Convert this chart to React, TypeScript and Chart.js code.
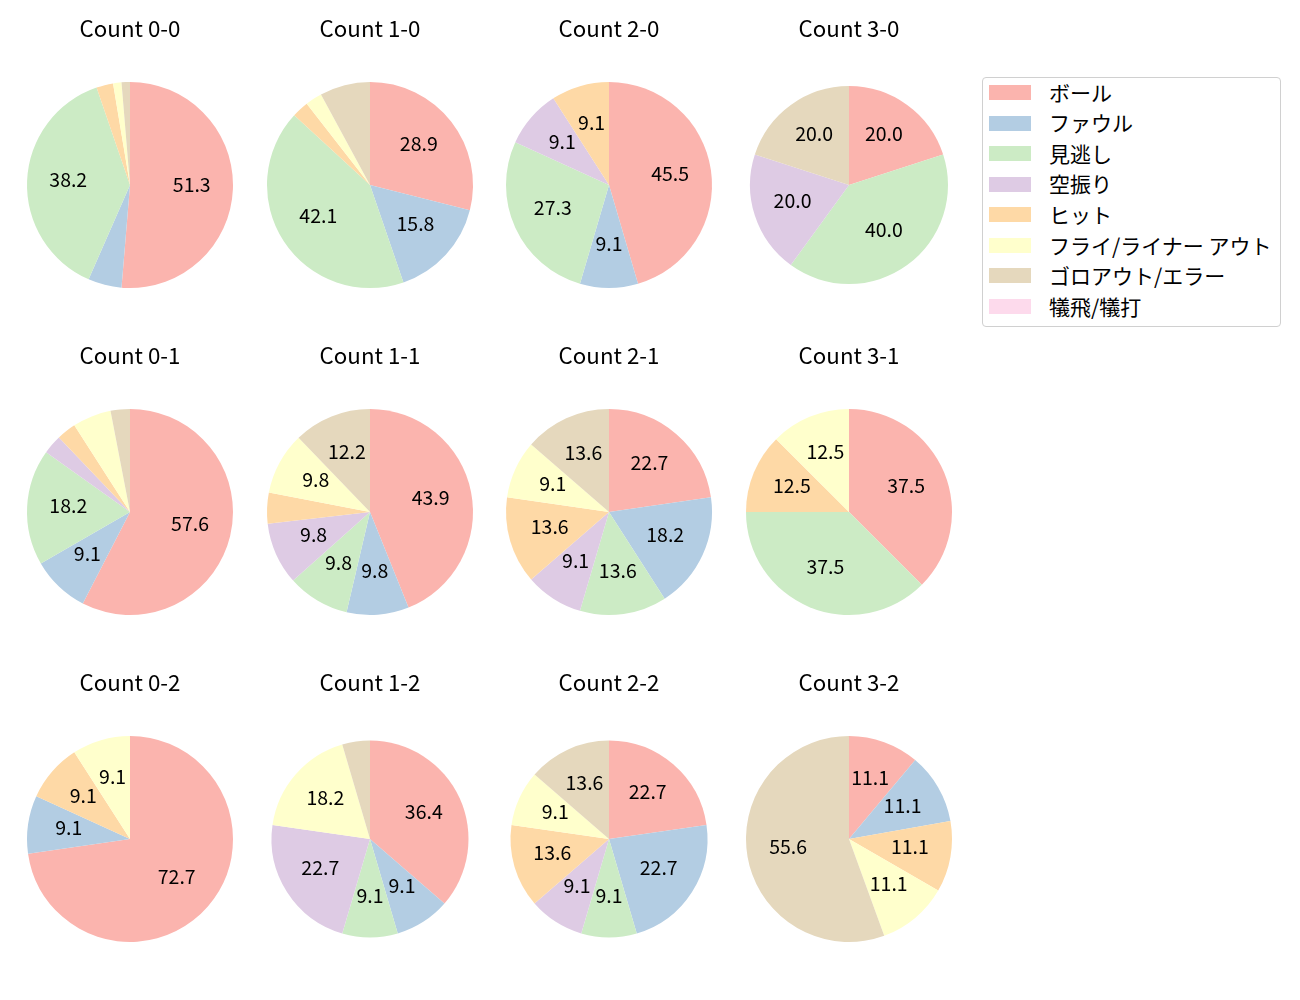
import React, { useEffect, useRef } from "react";
import { Chart, registerables } from "chart.js";

Chart.register(...registerables);

const FONT = "'Noto Sans CJK JP', 'Noto Sans', sans-serif";
const LABEL_SIZE = 19.5;
const TITLE_SIZE = 22.3;
const LEGEND_SIZE = 21;
const LABEL_DY = -3;

const categories = [
  "ボール",
  "ファウル",
  "見逃し",
  "空振り",
  "ヒット",
  "フライ/ライナー アウト",
  "ゴロアウト/エラー",
  "犠飛/犠打",
];
const colors = ["#fbb4ae", "#b3cde3", "#ccebc5", "#decbe4", "#fed9a6", "#ffffcc", "#e5d8bd", "#fddaec"];

const titles = [
  "Count 0-0", "Count 1-0", "Count 2-0", "Count 3-0",
  "Count 0-1", "Count 1-1", "Count 2-1", "Count 3-1",
  "Count 0-2", "Count 1-2", "Count 2-2", "Count 3-2",
];

const count00 = [39, 4, 29, 0, 2, 1, 1, 0];
const count10 = [11, 6, 16, 0, 1, 1, 3, 0];
const count20 = [5, 1, 3, 1, 1, 0, 0, 0];
const count30 = [1, 0, 2, 1, 0, 0, 1, 0];
const count01 = [19, 3, 6, 1, 1, 2, 1, 0];
const count11 = [18, 4, 4, 4, 2, 4, 5, 0];
const count21 = [5, 4, 3, 2, 3, 2, 3, 0];
const count31 = [3, 0, 3, 0, 1, 1, 0, 0];
const count02 = [8, 1, 0, 0, 1, 1, 0, 0];
const count12 = [8, 2, 2, 5, 0, 4, 1, 0];
const count22 = [5, 5, 2, 2, 3, 2, 3, 0];
const count32 = [1, 1, 0, 0, 1, 1, 5, 0];

const allCounts = [
  count00, count10, count20, count30,
  count01, count11, count21, count31,
  count02, count12, count22, count32,
];

const radii = [103, 103, 103, 99, 103, 103, 103, 103, 103, 98.5, 98.5, 103];

const COL_X0 = 130;
const COL_DX = 239.5;
const ROW_Y0 = 185.3;
const ROW_DY = 326.6;
const CANVAS_W = 240;
const CANVAS_H = 300;
const AREA_CENTER = 170; // center of chart area from canvas top

const pctLabels = {
  id: "pctLabels",
  afterDatasetsDraw(chart: any) {
    const ctx = chart.ctx;
    const vals = chart.data.datasets[0].data as number[];
    const total = vals.reduce((a, b) => a + b, 0);
    const meta = chart.getDatasetMeta(0);
    ctx.save();
    ctx.font = `${LABEL_SIZE}px ${FONT}`;
    ctx.fillStyle = "#000";
    ctx.textAlign = "center";
    ctx.textBaseline = "middle";
    meta.data.forEach((arc: any, i: number) => {
      const v = vals[i];
      if (!v) return;
      const pct = (v / total) * 100;
      if (pct < 8) return;
      const p = arc.getProps(["x", "y", "startAngle", "endAngle", "outerRadius"], true);
      const mid = (p.startAngle + p.endAngle) / 2;
      const r = p.outerRadius * 0.6;
      ctx.fillText(pct.toFixed(1), p.x + Math.cos(mid) * r, p.y + Math.sin(mid) * r + LABEL_DY);
    });
    ctx.restore();
  },
};

function PieChart({ values, title, radius }: { values: number[]; title: string; radius: number }) {
  const ref = useRef<HTMLCanvasElement | null>(null);
  useEffect(() => {
    if (!ref.current) return;
    const chart = new Chart(ref.current, {
      type: "pie",
      data: {
        labels: categories,
        datasets: [
          {
            data: values,
            backgroundColor: colors,
            borderWidth: 0,
            radius: radius,
          } as any,
        ],
      },
      options: {
        animation: false,
        responsive: false,
        devicePixelRatio: 1,
        layout: { padding: 0 },
        plugins: {
          legend: { display: false },
          tooltip: { enabled: false },
          title: {
            display: true,
            text: title,
            color: "#000",
            font: { size: TITLE_SIZE, family: FONT, weight: "normal" as any, lineHeight: 1.2 },
            padding: { top: 0, bottom: 40 - TITLE_SIZE * 1.2 },
          },
        },
      } as any,
      plugins: [pctLabels],
    });
    return () => chart.destroy();
  }, [values, title, radius]);
  return <canvas ref={ref} width={CANVAS_W} height={CANVAS_H} style={{ width: CANVAS_W, height: CANVAS_H, display: "block" }} />;
}

const LEG_ROW0 = 93;
const LEG_DY = 30.56;

function Legend() {
  return (
    <>
      <div
        style={{
          position: "absolute",
          left: 982,
          top: 77,
          width: 297,
          height: 248,
          border: "1px solid #d0d0d0",
          borderRadius: 4,
          background: "rgba(255,255,255,0.8)",
        }}
      />
      {categories.map((c, i) => {
        const cy = LEG_ROW0 + LEG_DY * i;
        return (
          <React.Fragment key={c}>
            <div
              style={{
                position: "absolute",
                left: 989,
                top: cy - 8,
                width: 42,
                height: 15,
                background: colors[i],
              }}
            />
            <div
              style={{
                position: "absolute",
                left: 1049,
                top: cy - 16.2,
                height: 30,
                lineHeight: "30px",
                fontFamily: FONT,
                fontSize: LEGEND_SIZE,
                color: "#000",
                whiteSpace: "nowrap",
              }}
            >
              {c}
            </div>
          </React.Fragment>
        );
      })}
    </>
  );
}

export default function App() {
  return (
    <div style={{ position: "absolute", left: 0, top: 0, width: 1300, height: 1000, background: "#fff" }}>
      {allCounts.map((vals, i) => {
        const col = i % 4;
        const row = Math.floor(i / 4);
        const cx = COL_X0 + COL_DX * col;
        const cy = ROW_Y0 + ROW_DY * row;
        return (
          <div key={titles[i]} style={{ position: "absolute", left: cx - CANVAS_W / 2, top: cy - AREA_CENTER }}>
            <PieChart values={vals} title={titles[i]} radius={radii[i]} />
          </div>
        );
      })}
      <Legend />
    </div>
  );
}
